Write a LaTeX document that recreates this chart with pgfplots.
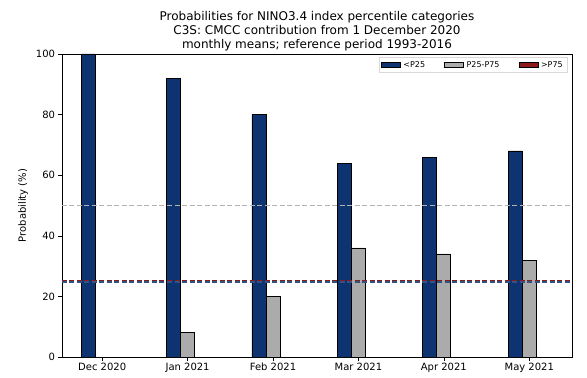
\documentclass[border=0pt]{standalone}
\usepackage{pgfplots}
\pgfplotsset{compat=1.18}
\usepackage{fontspec}
\setmainfont{DejaVu Sans}
\definecolor{cblue}{HTML}{0D3370}
\definecolor{cgrey}{HTML}{ABABAB}
\definecolor{cred}{HTML}{8B1A1A}
\begin{document}
\begin{tikzpicture}
\begin{axis}[
  scale only axis, width=510bp, height=303bp,
  at={(0,0)}, anchor=south west,
  xmin=-0.47, xmax=5.5, ymin=0, ymax=100,
  xtick={0,1,2,3,4,5},
  xticklabels={Dec 2020,Jan 2021,Feb 2021,Mar 2021,Apr 2021,May 2021},
  ytick={0,20,40,60,80,100},
  tick align=outside, xtick pos=bottom, ytick pos=left,
  major tick length=3.5bp,
  tick style={black, line width=0.6pt},
  axis line style={line width=0.6pt},
  /pgf/number format/assume math mode=true,
  ticklabel style={font=\fontsize{10bp}{11bp}\selectfont},
  xticklabel style={yshift=1.5bp, text height=7.5bp, text depth=2.3bp},
  ylabel={Probability (\%)},
  ylabel style={font=\fontsize{10bp}{11bp}\selectfont, yshift=1bp},
  title={Probabilities for NINO3.4 index percentile categories\\C3S: CMCC contribution from 1 December 2020\\monthly means; reference period 1993-2016},
  title style={font=\fontsize{12bp}{14bp}\selectfont, align=center, yshift=-6bp},
  legend columns=3,
  legend style={at={(0.99,0.99)}, anchor=north east, font=\fontsize{8bp}{9bp}\selectfont, draw=black!15, inner sep=2pt, /tikz/every even column/.append style={column sep=17bp}, /tikz/every odd column/.append style={column sep=1bp}},
  legend image code/.code={\draw[#1, draw=black, line width=0.5pt, sharp corners] (0bp,-2.5bp) rectangle (19bp,2.5bp);},
]
\addplot[ybar, bar width=0.164, bar shift=-0.164, fill=cblue, draw=black, line width=0.8pt] coordinates {(0,100) (1,92) (2,80) (3,64) (4,66) (5,68)};
\addlegendentry{<P25}
\addplot[ybar, bar width=0.164, bar shift=0, fill=cgrey, draw=black, line width=0.8pt] coordinates {(0,0) (1,8) (2,20) (3,36) (4,34) (5,32)};
\addlegendentry{P25-P75}
\addplot[ybar, bar width=0.164, bar shift=0.164, fill=cred, draw=black, line width=0.8pt] coordinates {(0,0) (1,0) (2,0) (3,0) (4,0) (5,0)};
\addlegendentry{>P75}
\addplot[forget plot, cblue!85!white, line width=1.4pt, dash pattern=on 5bp off 2.5bp] coordinates {(-0.47,24.8) (5.5,24.8)};
\addplot[forget plot, cgrey!90!white, line width=1.2pt, dash pattern=on 5bp off 2.5bp] coordinates {(-0.47,50) (5.5,50)};
\addplot[forget plot, cred, line width=0.6pt, dash pattern=on 5bp off 2.5bp] coordinates {(-0.47,25.2) (5.5,25.2)};
\end{axis}
\pgfresetboundingbox
\path[use as bounding box] (-62bp,-21bp) rectangle (525bp,357bp);
\end{tikzpicture}
\end{document}
